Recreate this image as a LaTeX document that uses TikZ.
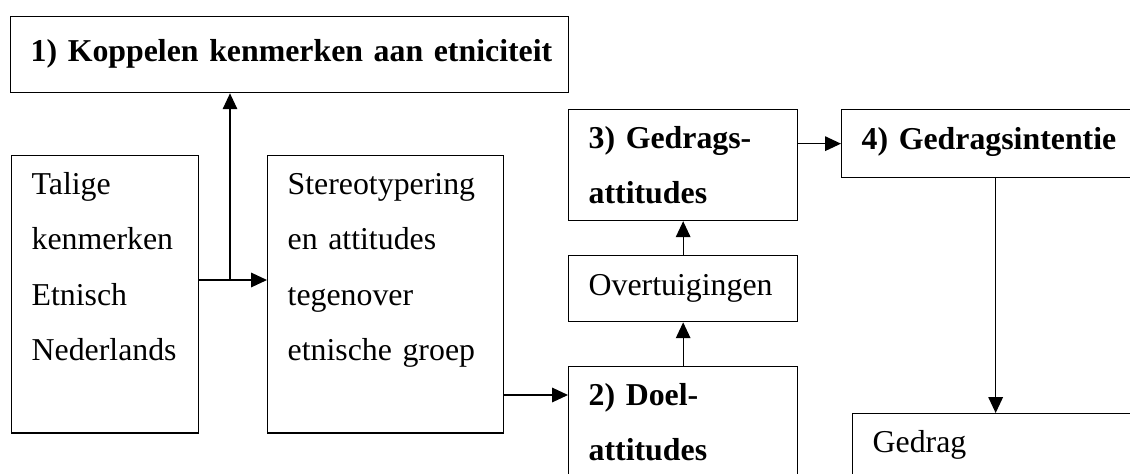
\documentclass[tikz,border=0pt]{standalone}
\usepackage{fontspec}
\setmainfont{Liberation Serif}
\usetikzlibrary{arrows.meta}
\newlength{\pxlen}
\setlength{\pxlen}{0.377pt}

\begin{document}
\begin{tikzpicture}[x=0.377pt, y=-0.377pt,
  box/.style={draw, line width=0.5pt, anchor=north west, align=left,
    inner xsep=20*\pxlen, inner ysep=0pt,
    font=\fontsize{12}{20.9}\selectfont,
    execute at begin node=\strut, execute at end node=\strut},
  bold/.style={font=\fontsize{12}{20.9}\selectfont\bfseries},
  arr/.style={line width=0.5pt, -{Triangle[length=6pt, width=5.5pt]}}]
  \useasboundingbox (0,0) rectangle (1130,474);
  \clip (0,0) rectangle (1130,474);

  \node[box, bold, text width=518*\pxlen, text height=45*\pxlen, text depth=31*\pxlen] (k1) at (10,16) {\mbox{1) Koppelen kenmerken aan etniciteit}};
  \node[box, text width=147*\pxlen] (talig) at (11,155) {Talige\\kenmerken\\Etnisch\\Nederlands\\};
  \node[box, text width=196*\pxlen] (stereo) at (267,155) {Stereotypering\\en attitudes\\tegenover\\etnische groep\\};
  \node[box, bold, text width=189*\pxlen] (gedatt) at (568,109) {3) Gedrags-\\attitudes};
  \node[box, text width=189*\pxlen, text height=40*\pxlen, text depth=26*\pxlen] (overt) at (568,255) {Overtuigingen};
  \node[box, bold, text width=189*\pxlen] (doel) at (568,366) {2) Doel-\\attitudes\\};
  \node[box, bold, text width=268*\pxlen, text height=40*\pxlen, text depth=28*\pxlen] (intent) at (841,109) {4) Gedragsintentie};
  \node[box, text width=246*\pxlen] (gedrag) at (852,413) {Gedrag\\};

  \coordinate (split) at (230,280);
  \coordinate (cross) at (0,395);
  \draw[arr] (talig.east |- split) -- (stereo.west |- split);
  \draw[arr] (split) -- (split |- k1.south);
  \draw[arr] (stereo.east |- cross) -- (doel.west |- cross);
  \draw[arr] (doel.north) -- (overt.south);
  \draw[arr] (overt.north) -- (gedatt.south);
  \draw[arr] (gedatt.east |- intent.west) -- (intent.west);
  \draw[arr] (intent.south) -- (gedrag.north);
\end{tikzpicture}
\end{document}
